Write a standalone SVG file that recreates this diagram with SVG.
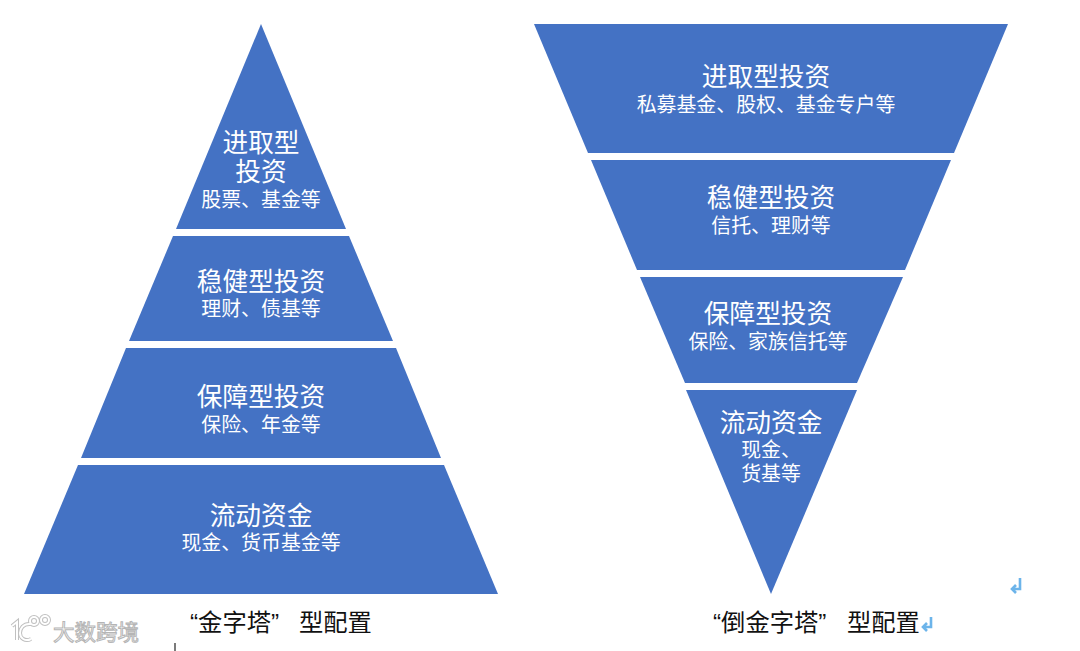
<svg xmlns="http://www.w3.org/2000/svg" width="1080" height="651" viewBox="0 0 1080 651">
<style>
text{font-family:"Noto Sans CJK SC","Liberation Sans",sans-serif;text-anchor:middle}
.s{fill:#4472c4}
.h{fill:#fff;font-size:25.7px}
.t{fill:#fff;font-size:19.9px}
.c{fill:#111;font-size:24.3px;text-anchor:start;font-family:"Liberation Sans","Noto Sans CJK SC",sans-serif}
.w{fill:#fff;stroke:#b5b5b5;stroke-width:1;font-size:21.5px;text-anchor:start}
.r{fill:none;stroke:#6cb4ea;stroke-width:2.6}
.l{fill:none;stroke:#c0c0c0;stroke-width:4}
.m{fill:none;stroke:#fff;stroke-width:2}
</style>
<defs>
<g id="logo"><path d="M12 626L17 622V640M31 624C23 623 20 629 20 633C20 638 25 642 31 639"/><circle cx="34" cy="621" r="4"/><circle cx="45" cy="620" r="4"/></g>
</defs>
<rect width="1080" height="651" fill="#fff"/>
<g id="connectors"/>
<g id="left-1"><polygon class="s" points="261,24 346,229 176,229"/><text class="h" x="261" y="152">进取型</text><text class="h" x="261" y="181">投资</text><text class="t" x="261" y="207">股票、基金等</text></g>
<g id="left-2"><polygon class="s" points="173,236 349,236 393,341 129,341"/><text class="h" x="261" y="291">稳健型投资</text><text class="t" x="261" y="316">理财、债基等</text></g>
<g id="left-3"><polygon class="s" points="126,348 396,348 441,458 81,458"/><text class="h" x="261" y="406">保障型投资</text><text class="t" x="261" y="432">保险、年金等</text></g>
<g id="left-4"><polygon class="s" points="78,465 444,465 498,594 24,594"/><text class="h" x="261" y="525">流动资金</text><text class="t" x="261" y="550">现金、货币基金等</text></g>
<g id="right-1"><polygon class="s" points="534,24 1008,24 954,153 588,153"/><text class="h" x="766" y="86">进取型投资</text><text class="t" x="766" y="112">私募基金、股权、基金专户等</text></g>
<g id="right-2"><polygon class="s" points="591,160 951,160 905,270 637,270"/><text class="h" x="771" y="207">稳健型投资</text><text class="t" x="771" y="233">信托、理财等</text></g>
<g id="right-3"><polygon class="s" points="640,277 903,277 857,383 685,383"/><text class="h" x="768" y="323">保障型投资</text><text class="t" x="768" y="349">保险、家族信托等</text></g>
<g id="right-4"><polygon class="s" points="686,390 857,390 771,594"/><text class="h" x="771" y="432">流动资金</text><text class="t" x="771" y="457">现金、</text><text class="t" x="771" y="481">货基等</text></g>
<g id="caption-left"><text class="c" x="190" y="631">“金字塔”</text><text class="c" x="299" y="631">型配置</text></g>
<g id="caption-right"><text class="c" x="713" y="631">“倒金字塔”</text><text class="c" x="847" y="631">型配置</text></g>
<g id="marks">
<path class="r" d="M1020 578V589H1012M1016 585L1012 589L1016 593"/>
<path class="r" d="M931 617V627H923M927 623L923 627L927 631"/>
<path d="M175 643V651" stroke="#222" stroke-width="1.2" fill="none"/>
</g>
<g id="watermark">
<use href="#logo" class="l"/><use href="#logo" class="m"/>
<text class="w" x="53" y="640">大数跨境</text>
</g>
</svg>
